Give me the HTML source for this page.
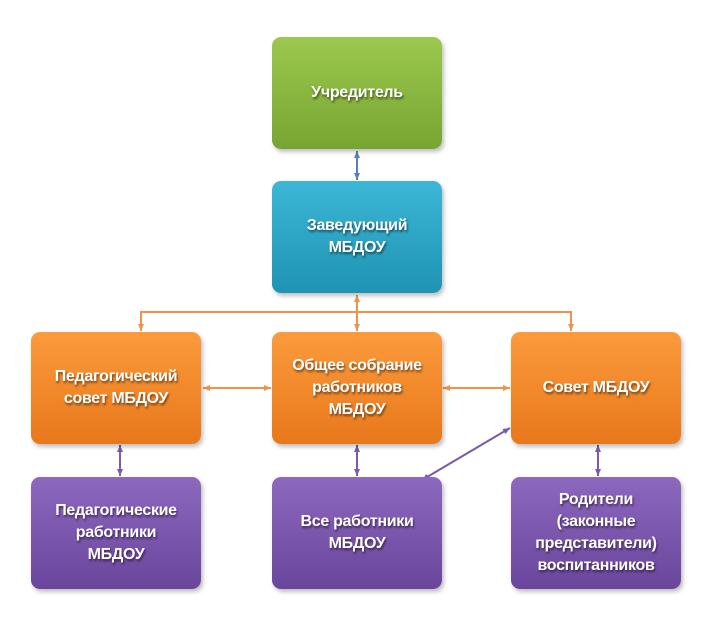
<!DOCTYPE html>
<html><head><meta charset="utf-8"><style>
body{margin:0;background:#fff;width:714px;height:622px;overflow:hidden}
.b{position:absolute;width:170px;height:112px;border-radius:9px;display:flex;align-items:center;justify-content:center;text-align:center;color:#fff;font-family:"Liberation Sans","DejaVu Sans",sans-serif;font-weight:bold;font-size:16px;line-height:22px;letter-spacing:-0.3px;text-shadow:1px 2px 2px rgba(0,0,0,.55);box-shadow:2px 3px 4px rgba(0,0,0,.25)}
.g{background:linear-gradient(#9cc84e,#77a531)}
.t{background:linear-gradient(#3cb7d6,#1f93b3)}
.o{background:linear-gradient(#fb9b3c,#e8781b)}
.p{background:linear-gradient(#8d68bf,#6a459c)}
</style></head><body>
<svg width="714" height="622" style="position:absolute;left:0;top:0">
<defs>
<marker id="ao" markerUnits="userSpaceOnUse" markerWidth="8" markerHeight="8" refX="7" refY="4" orient="auto-start-reverse"><path d="M0,1L7,4L0,7z" fill="#f0924a"/></marker>
<marker id="ap" markerUnits="userSpaceOnUse" markerWidth="8" markerHeight="8" refX="7" refY="4" orient="auto-start-reverse"><path d="M0,1L7,4L0,7z" fill="#7a5aaa"/></marker>
<marker id="ab" markerUnits="userSpaceOnUse" markerWidth="8" markerHeight="8" refX="7" refY="4" orient="auto-start-reverse"><path d="M0,1L7,4L0,7z" fill="#5a7fb0"/></marker>
</defs>
<g stroke-width="2" fill="none">
<line x1="357" y1="151" x2="357" y2="180" stroke="#5a7fb0" marker-start="url(#ab)" marker-end="url(#ab)"/>
<line x1="357" y1="295" x2="357" y2="331" stroke="#f0924a" marker-start="url(#ao)" marker-end="url(#ao)"/>
<polyline points="141,331 141,312 571,312 571,331" stroke="#f0924a" marker-start="url(#ao)" marker-end="url(#ao)"/>
<line x1="203" y1="388" x2="271" y2="388" stroke="#f0924a" marker-start="url(#ao)" marker-end="url(#ao)"/>
<line x1="443" y1="388" x2="510" y2="388" stroke="#f0924a" marker-start="url(#ao)" marker-end="url(#ao)"/>
<line x1="120" y1="445" x2="120" y2="476" stroke="#7a5aaa" marker-start="url(#ap)" marker-end="url(#ap)"/>
<line x1="357" y1="445" x2="357" y2="476" stroke="#7a5aaa" marker-start="url(#ap)" marker-end="url(#ap)"/>
<line x1="598" y1="445" x2="598" y2="476" stroke="#7a5aaa" marker-start="url(#ap)" marker-end="url(#ap)"/>
<line x1="510" y1="428" x2="422" y2="480" stroke="#7a5aaa" marker-start="url(#ap)" marker-end="url(#ap)"/>
</g></svg>
<div class="b g" style="left:272px;top:37px">Учредитель</div>
<div class="b t" style="left:272px;top:181px">Заведующий<br>МБДОУ</div>
<div class="b o" style="left:31px;top:332px">Педагогический<br>совет МБДОУ</div>
<div class="b o" style="left:272px;top:332px">Общее собрание<br>работников<br>МБДОУ</div>
<div class="b o" style="left:511px;top:332px">Совет МБДОУ</div>
<div class="b p" style="left:31px;top:477px">Педагогические<br>работники<br>МБДОУ</div>
<div class="b p" style="left:272px;top:477px">Все работники<br>МБДОУ</div>
<div class="b p" style="left:511px;top:477px">Родители<br>(законные<br>представители)<br>воспитанников</div>
</body></html>
